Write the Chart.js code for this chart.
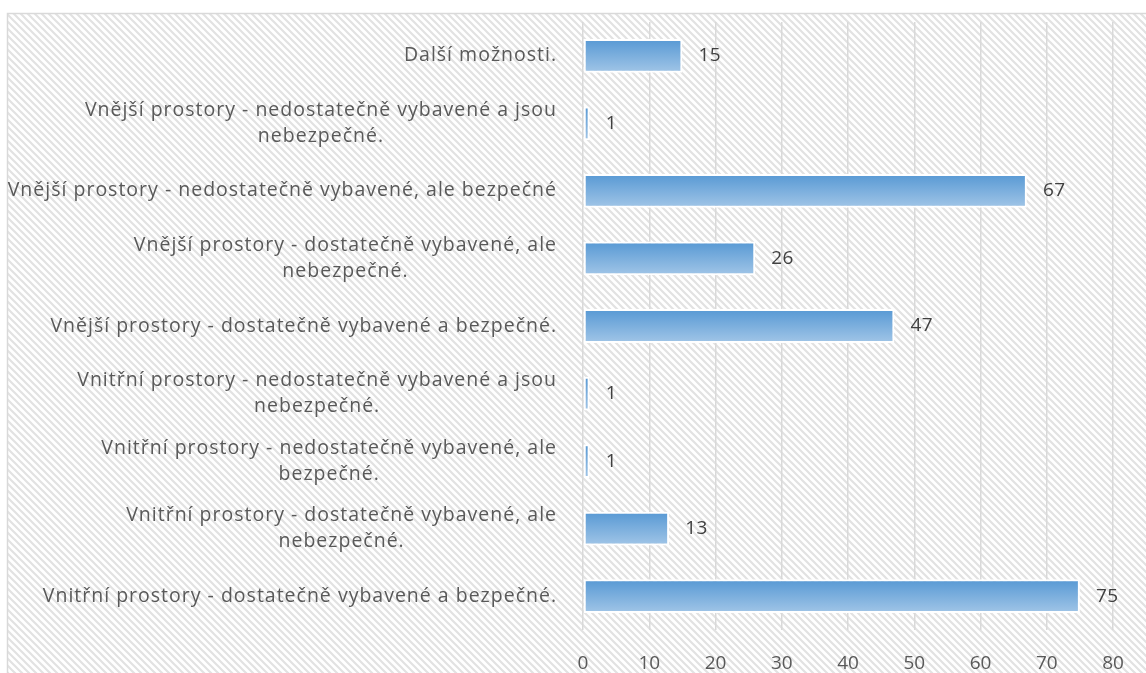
<!DOCTYPE html>
<html>
<head>
<meta charset="utf-8">
<script src="https://cdn.jsdelivr.net/npm/chart.js@4/dist/chart.umd.min.js"></script>
<style>
  html, body { margin: 0; padding: 0; background: #fff; }
  #graf { display: block; }
</style>
</head>
<body>
<canvas id="graf" width="1146" height="673"></canvas>
<script>
// kategorie shora dolu, viceradkove popisky jako pole radku
const kategorie = [
  ["Další možnosti."],
  ["Vnější prostory - nedostatečně vybavené a jsou", "nebezpečné."],
  ["Vnější prostory - nedostatečně vybavené, ale bezpečné"],
  ["Vnější prostory - dostatečně vybavené, ale", "nebezpečné."],
  ["Vnější prostory - dostatečně vybavené a bezpečné."],
  ["Vnitřní prostory - nedostatečně vybavené a jsou", "nebezpečné."],
  ["Vnitřní prostory - nedostatečně vybavené, ale", "bezpečné."],
  ["Vnitřní prostory - dostatečně vybavené, ale", "nebezpečné."],
  ["Vnitřní prostory - dostatečně vybavené a bezpečné."]
];
const hodnoty = [15, 1, 67, 26, 47, 1, 1, 13, 75];
const osaX_min = 0;
const osaX_max = 80;
const osaX_krok = 10;

const PISMO = "'Open Sans', sans-serif";
const SEDA_TEXT = "#595959";

function vzor_srafovani(){
  var c = document.createElement("canvas");
  c.width = 7; c.height = 7;
  var g = c.getContext("2d");
  g.fillStyle = "#ffffff";
  g.fillRect(0, 0, 7, 7);
  g.strokeStyle = "#e2e2e2";
  g.lineWidth = 2.2;
  g.beginPath();
  g.moveTo(-1, -1); g.lineTo(8, 8);
  g.moveTo(-8, -1); g.lineTo(1, 8);
  g.moveTo(6, -1); g.lineTo(15, 8);
  g.stroke();
  return c;
}

// pozadi se srafovanim a ramecek
const pozadi = {
  id: "pozadi",
  beforeDraw(chart){
    var ctx = chart.ctx;
    ctx.save();
    ctx.fillStyle = ctx.createPattern(vzor_srafovani(), "repeat");
    ctx.fillRect(7, 13, chart.width, chart.height);
    ctx.strokeStyle = "#d9d9d9";
    ctx.lineWidth = 1.5;
    ctx.strokeRect(7.5, 13.5, chart.width + 10, chart.height + 10);
    ctx.restore();
  }
};

// popisky kategorii: radky centrovane na sirsi radek, zarovnane vpravo k ose
const popisky = {
  id: "popisky",
  afterDraw(chart){
    var ctx = chart.ctx;
    var y = chart.scales.y;
    var prava = chart.chartArea.left - 26;
    ctx.save();
    ctx.font = "19.5px " + PISMO;
    ctx.letterSpacing = "1px";
    ctx.fillStyle = SEDA_TEXT;
    ctx.textAlign = "center";
    ctx.textBaseline = "middle";
    var rozestup = 26;
    kategorie.forEach(function(radky, i){
      var sirka = 0;
      radky.forEach(function(r){ sirka = Math.max(sirka, ctx.measureText(r).width); });
      var stred = prava - sirka / 2;
      var cy = y.getPixelForValue(i);
      var y0 = cy - (radky.length - 1) * rozestup / 2;
      radky.forEach(function(r, k){
        ctx.fillText(r, stred, y0 + k * rozestup);
      });
    });
    // hodnoty u sloupcu
    var meta = chart.getDatasetMeta(0);
    ctx.font = "19px " + PISMO;
    ctx.letterSpacing = "0.5px";
    ctx.fillStyle = "#404040";
    ctx.textAlign = "left";
    meta.data.forEach(function(bar, i){
      ctx.fillText(String(hodnoty[i]), bar.x + 16, bar.y);
    });
    ctx.restore();
  }
};

function prechod(context){
  var chart = context.chart;
  if (!chart.chartArea || context.dataIndex === undefined) return "#7aaee0";
  var y = chart.scales.y;
  var cy = y.getPixelForValue(context.dataIndex);
  var g = chart.ctx.createLinearGradient(0, cy - 15, 0, cy + 15);
  g.addColorStop(0, "#5b9bd5");
  g.addColorStop(1, "#9dc3e6");
  return g;
}

var ctx = document.getElementById("graf").getContext("2d");
var graf = new Chart(ctx, {
  type: "bar",
  data: {
    labels: kategorie.map(function(k){ return k.join(" "); }),
    datasets: [{
      data: hodnoty,
      backgroundColor: prechod,
      borderColor: "#ffffff",
      borderWidth: 2,
      borderSkipped: false,
      barPercentage: 0.5,
      categoryPercentage: 1.0
    }]
  },
  options: {
    indexAxis: "y",
    responsive: false,
    animation: false,
    events: [],
    layout: { padding: { top: 22, right: 33, left: 0, bottom: 0 } },
    plugins: { legend: { display: false }, tooltip: { enabled: false } },
    scales: {
      x: {
        min: osaX_min,
        max: osaX_max,
        ticks: {
          stepSize: osaX_krok,
          color: SEDA_TEXT,
          font: { family: PISMO, size: 19 },
          padding: 22
        },
        grid: { color: "#d9d9d9", lineWidth: 1.5, drawTicks: false },
        border: { display: false },
        afterFit: function(s){ s.height = 43; }
      },
      y: {
        ticks: { display: false },
        grid: { display: false },
        border: { display: false },
        afterFit: function(s){ s.width = 583; }
      }
    }
  },
  plugins: [pozadi, popisky]
});
</script>
</body>
</html>
